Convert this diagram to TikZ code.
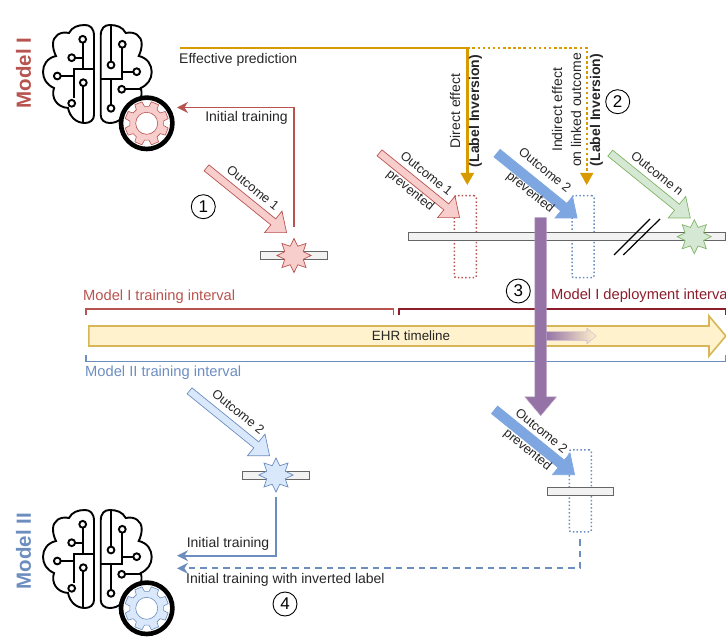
\documentclass[tikz,border=0pt]{standalone}
\usepackage{fontspec}
\usepackage{xcolor}
\usepackage{tikz}
\usetikzlibrary{arrows.meta,shapes.geometric,shapes.arrows}
\setmainfont{Liberation Sans}

\definecolor{redline}{HTML}{B85450}
\definecolor{redfill}{HTML}{F8CECC}
\definecolor{darkred}{HTML}{8C1D2B}
\definecolor{blueline}{HTML}{6C8EBF}
\definecolor{bluefill}{HTML}{DAE8FC}
\definecolor{bluedark}{HTML}{7EA6E0}
\definecolor{greenline}{HTML}{82B366}
\definecolor{greenfill}{HTML}{D5E8D4}
\definecolor{goldline}{HTML}{D79B00}
\definecolor{timeline}{HTML}{D6B656}
\definecolor{timefill}{HTML}{FFF2CC}
\definecolor{purpleline}{HTML}{9673A6}

\tikzset{
    labeltext/.style={font=\fontsize{14}{19}\selectfont,inner sep=0pt,text=black!85,align=center},
    intervaltext/.style={font=\fontsize{14.7}{19}\selectfont,inner sep=0pt,anchor=west},
    tiltlabel/.style={font=\fontsize{12.8}{15}\selectfont,inner sep=0pt,text=black!85,rotate=-39},
    modellabel/.style={font=\fontsize{20.5}{24}\selectfont\bfseries,inner sep=0pt,rotate=90},
    stepmark/.style={draw=black,shape=circle,line width=0.9pt,minimum size=24pt,inner sep=0pt,font=\fontsize{17}{18}\selectfont},
    flexarrow/.style={single arrow,single arrow head extend=10pt,single arrow tip angle=78,minimum width=27pt,minimum height=103pt,inner xsep=0pt,inner ysep=3.5pt,anchor=tip,rotate=-39,line width=0.7pt},
    solidarrow/.style={flexarrow,inner ysep=4.5pt,single arrow head extend=9pt,fill=bluedark,draw=bluedark},
    eventbar/.style={fill=black!5,draw=black!60,line width=1pt,inner sep=0pt,minimum height=8pt},
    burst/.style={star,star points=8,star point ratio=1.7,minimum size=34pt,inner sep=0pt,line width=0.7pt},
    gapbox/.style={dash pattern=on 1.5pt off 2.2pt,line width=1.5pt,rounded corners=2pt,inner sep=0pt,minimum width=22pt,minimum height=82pt},
    trainarrow/.style={-{Stealth[length=11pt,width=11pt]},line width=1.8pt},
    brainline/.style={draw=black,line width=1.9pt},
    pics/brainicon/.style n args={2}{code={
        \draw[brainline] (94,36) .. controls (94,28) and (90,25) .. (85,25) .. controls (78,25) and (72,27) .. (69,33) .. controls (60,31) and (53,36) .. (53,44) .. controls (53,48) and (54,52) .. (56,56) .. controls (47,58) and (43,65) .. (43,72) .. controls (43,79) and (47,85) .. (54,88) .. controls (51,97) and (56,107) .. (68,108) .. controls (70,117) and (76,123) .. (85,123) .. controls (90,123) and (94,120) .. (94,115) -- cycle;
        \draw[brainline] (100.7,36) .. controls (100.7,28) and (104.7,25) .. (109.7,25) .. controls (116.7,25) and (122.7,27) .. (125.7,33) .. controls (134.7,31) and (141.7,36) .. (141.7,44) .. controls (141.7,48) and (140.7,52) .. (138.7,56) .. controls (147.7,58) and (151.7,65) .. (151.7,72) .. controls (151.7,79) and (147.7,85) .. (140.7,88) .. controls (143.7,97) and (138.7,107) .. (126.7,108) .. controls (124.7,117) and (118.7,123) .. (109.7,123) .. controls (104.7,123) and (100.7,120) .. (100.7,115) -- cycle;
        \draw[brainline] (82.7,39.3) -- (82.7,69.3);
        \draw[brainline] (71.7,57.7) -- (82.7,57.7);
        \draw[brainline] (94,69.3) -- (74,69.3) -- (74,98);
        \draw[brainline] (57.3,76) -- (74,76);
        \draw[brainline] (83.3,82.7) -- (83.3,122.7);
        \draw[brainline] (111,26) -- (111,61);
        \draw[brainline] (122.3,44.3) -- (122.3,79.3) -- (101,79.3);
        \draw[brainline] (122.3,71.7) -- (132.7,71.7);
        \draw[brainline] (121.7,89.3) -- (140,89.3);
        \draw[brainline] (111,79.3) -- (111,104);
        \foreach \cx/\cy in {82.7/39.3,71.7/57.7,57.3/76,83.3/82.7,71.7/103.3,111/65,122.3/44.3,136.7/71.7,121.7/89.3,111/108.3}
            \draw[brainline,fill=white] (\cx,\cy) circle (3.4);
        \begin{scope}[shift={(146.7,123.3)}]
            \draw[draw=black,line width=4.6pt,fill=white] (0,0) circle (25.7);
            \draw[draw=#2,fill=#1,line width=0.6pt,even odd rule] (7.5:17) \foreach \a in {22.5,67.5,...,337.5} { -- ({\a-15}:17) -- ({\a-10}:22) -- ({\a+10}:22) -- ({\a+15}:17) } -- cycle (0,0) circle (11);
        \end{scope}
    }},
}

\begin{document}
\begin{tikzpicture}[x=1pt,y=-1pt]
    \useasboundingbox (0,0) rectangle (726,639);

    \pic at (0,0) {brainicon={redfill}{redline}};
    \pic at (0,485) {brainicon={bluefill}{blueline}};
    \node[modellabel,text=redline] (modelI) at (23.5,73) {Model I};
    \node[modellabel,text=blueline] (modelII) at (23.5,551) {Model II};

    % timeline and intervals
    \node[single arrow,single arrow head extend=10pt,single arrow tip angle=100,minimum width=38pt,minimum height=637pt,inner xsep=0pt,inner ysep=9.2pt,anchor=tail,fill=timefill,draw=timeline,line width=1.6pt] (ehr) at (88,336) {};
    \node[labeltext,font=\fontsize{13.4}{16}\selectfont] (ehrlabel) at (411,336) {EHR timeline};
    \coordinate (redA) at (86,315);
    \coordinate (redB) at (393.5,315);
    \coordinate (depA) at (399,315);
    \coordinate (depB) at (726,315);
    \coordinate (bluA) at (86,355);
    \coordinate (bluB) at (726,355);
    \draw[redline,line width=1.6pt] (redA) -- ++(0,-6) -| (redB);
    \draw[darkred,line width=1.6pt] (depA) -- ++(0,-6) -| (depB);
    \draw[blueline,line width=1.6pt] (bluA) -- ++(0,6.5) -| (bluB);
    \node[intervaltext,text=redline] (trainI) at (83,297) {Model I training interval};
    \node[intervaltext,text=darkred] (deployI) at (551,296) {Model I deployment interval};
    \node[intervaltext,text=blueline] (trainII) at (85,373) {Model II training interval};

    % first event
    \node[eventbar,minimum width=67pt] (barI) at (294,255.5) {};
    \node[burst,fill=redfill,draw=redline] (starI) at (294,255.5) {};
    \node[flexarrow,fill=redfill,draw=redline] (outI) at (287,233) {};
    \node[tiltlabel] (outIlabel) at (253,188) {Outcome 1};
    \coordinate (startI) at (294,227);
    \coordinate (endI) at (177,107.5);
    \draw[trainarrow,redline] (startI) |- (endI);
    \node[labeltext] (initI) at (246.5,118) {Initial training};

    % deployment bar
    \node[gapbox,draw=redline] (gapA) at (465.3,236.7) {};
    \node[gapbox,draw=blueline] (gapB) at (583,236.7) {};
    \node[eventbar,minimum width=317pt] (barII) at (566.5,236.7) {};
    \node[burst,fill=greenfill,draw=greenline] (starN) at (694.3,236.7) {};
    \coordinate (cutA) at (614,255);
    \coordinate (cutB) at (650,219);
    \coordinate (cutC) at (623.3,255);
    \coordinate (cutD) at (660,219);
    \draw[black,line width=1.2pt] (cutA) -- (cutB);
    \draw[black,line width=1.2pt] (cutC) -- (cutD);
    \node[flexarrow,fill=redfill,draw=redline] (outA) at (460,218) {};
    \node[solidarrow] (outB) at (577.5,218.3) {};
    \node[flexarrow,fill=greenfill,draw=greenline] (outN) at (690.7,218.3) {};
    \node[tiltlabel] (outAlabel) at (426.7,173.3) {Outcome 1};
    \node[tiltlabel] (preA) at (410,190.7) {prevented};
    \node[tiltlabel] (outBlabel) at (545,170) {Outcome 2};
    \node[tiltlabel] (preB) at (530,192.7) {prevented};
    \node[tiltlabel] (outNlabel) at (657.3,173.3) {Outcome n};

    % prediction
    \coordinate (pred) at (180,48);
    \coordinate (fork) at (467.3,48);
    \coordinate (direct) at (467.3,185);
    \coordinate (turn) at (586.7,48);
    \coordinate (indneck) at (586.7,173);
    \coordinate (indirect) at (586.7,185);
    \draw[goldline,line width=2.4pt,dash pattern=on 2.5pt off 2.6pt] (fork) -- (turn) -- (indneck);
    \draw[-{Triangle[length=12pt,width=13pt]},goldline,line width=2.5pt] (pred) -- (fork) -- (direct);
    \draw[-{Triangle[length=12pt,width=13pt]},goldline,line width=1pt] (indneck) -- (indirect);
    \node[labeltext,anchor=west] (effect) at (179,60) {Effective prediction};
    \node[labeltext,rotate=90] (directlabel) at (466,111) {Direct effect\\\textbf{(Label Inversion)}};
    \node[labeltext,rotate=90] (indirectlabel) at (577.5,110) {Indirect effect\\on linked outcome\\\textbf{(Label Inversion)}};

    % link between models
    \node[single arrow,single arrow head extend=3.5pt,single arrow tip angle=80,minimum width=15pt,minimum height=50pt,inner xsep=0pt,inner ysep=4.1pt,anchor=tail,left color=purpleline,right color=timefill,draw=purpleline!50] (shift) at (546,336) {};
    \node[single arrow,single arrow head extend=10pt,single arrow tip angle=80,minimum width=31pt,minimum height=198pt,inner xsep=0pt,inner ysep=5.5pt,anchor=tip,rotate=-90,fill=purpleline,draw=purpleline!70,line width=0.5pt] (link) at (540.7,416) {};

    % second event
    \node[eventbar,minimum width=67pt] (barIII) at (276,475) {};
    \node[burst,fill=bluefill,draw=blueline] (starII) at (276,475) {};
    \node[flexarrow,fill=bluefill,draw=blueline] (outII) at (270,456) {};
    \node[tiltlabel] (outIIlabel) at (238.3,411.7) {Outcome 2};
    \coordinate (startII) at (276,496.7);
    \coordinate (endII) at (177,555.7);
    \draw[trainarrow,blueline] (startII) |- (endII);
    \node[labeltext] (initII) at (228,543.5) {Initial training};

    % inverted label
    \node[gapbox,draw=blueline] (gapC) at (580.3,490.8) {};
    \node[eventbar,minimum width=66pt] (barIV) at (580.3,491) {};
    \node[solidarrow] (outC) at (575,475) {};
    \node[tiltlabel] (outClabel) at (541.7,430.7) {Outcome 2};
    \node[tiltlabel] (preC) at (527.3,450) {prevented};
    \coordinate (startIII) at (580,539);
    \coordinate (endIII) at (177,568.3);
    \draw[trainarrow,blueline,dash pattern=on 6.5pt off 5pt] (startIII) |- (endIII);
    \node[labeltext,anchor=west] (initIII) at (186,580) {Initial training with inverted label};

    \node[stepmark] (one) at (203.3,206.7) {1};
    \node[stepmark] (two) at (617.7,101.7) {2};
    \node[stepmark] (three) at (518.3,291) {3};
    \node[stepmark] (four) at (285,604) {4};
\end{tikzpicture}
\end{document}
